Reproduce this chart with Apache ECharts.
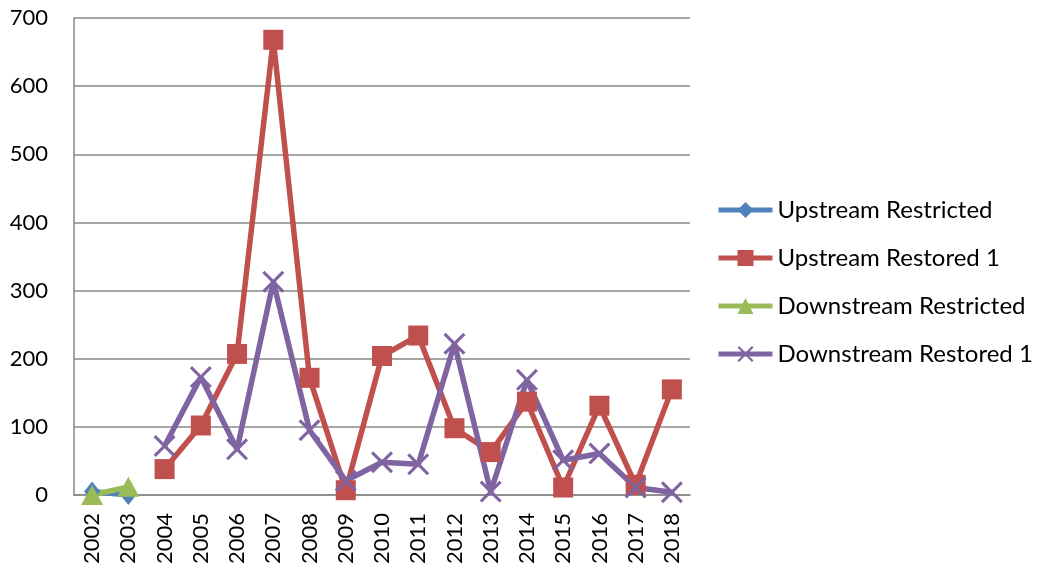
<!DOCTYPE html>
<html>
<head>
<meta charset="utf-8">
<script src="https://cdn.jsdelivr.net/npm/echarts@6/dist/echarts.min.js"></script>
<style>
  html, body { margin: 0; padding: 0; background: #fff; }
  #main { width: 1040px; height: 571px; }
</style>
</head>
<body>
<div id="main"></div>
<script>
const years = ["2002", "2003", "2004", "2005", "2006", "2007", "2008", "2009", "2010",
  "2011", "2012", "2013", "2014", "2015", "2016", "2017", "2018"];
const upstreamRestricted = [5, 0, null, null, null, null, null, null, null, null, null, null, null, null, null, null, null];
const upstreamRestored = [null, null, 38, 102, 207, 668, 172, 7, 204, 234, 98, 63, 137, 11, 131, 15, 155];
const downstreamRestricted = [0, 12, null, null, null, null, null, null, null, null, null, null, null, null, null, null, null];
const downstreamRestored = [null, null, 72, 173, 67, 313, 95, 21, 48, 45, 222, 5, 169, 51, 61, 11, 4];

const font = "Lato, 'Open Sans', sans-serif";
const cross = "path://M0,1L1,0L5,4L9,0L10,1L6,5L10,9L9,10L5,6L1,10L0,9L4,5Z";

function lineSeries(name, data, color, symbol, size) {
  return {
    name: name,
    type: "line",
    data: data,
    symbol: symbol,
    symbolSize: size,
    showAllSymbol: true,
    connectNulls: false,
    lineStyle: { color: color, width: 5.5 },
    itemStyle: { color: color, borderWidth: 0 },
    emphasis: { disabled: true },
  };
}

const chart = echarts.init(document.getElementById("main"));
chart.setOption({
  animation: false,
  textStyle: { fontFamily: font },
  grid: { left: 74, top: 18, right: 350, bottom: 76 },
  xAxis: {
    type: "category",
    data: years,
    boundaryGap: true,
    axisLine: { lineStyle: { color: "#888", width: 1.5 } },
    axisTick: { show: false },
    axisLabel: { rotate: 90, color: "#000", fontSize: 22, fontFamily: font, margin: 18 },
  },
  yAxis: {
    type: "value",
    min: 0,
    max: 700,
    interval: 100,
    axisLine: { show: true, lineStyle: { color: "#888", width: 1.5 } },
    axisTick: { show: false },
    splitLine: { lineStyle: { color: "#888", width: 1.5 } },
    axisLabel: { color: "#000", fontSize: 22, fontFamily: font, margin: 26 },
  },
  legend: {
    orient: "vertical",
    left: 716,
    top: 198,
    padding: 0,
    itemWidth: 54,
    itemHeight: 20,
    itemGap: 24,
    lineStyle: { width: 5 },
    textStyle: { fontSize: 24, color: "#000", fontFamily: font, padding: [0, 0, 0, 0] },
    data: ["Upstream Restricted", "Upstream Restored 1", "Downstream Restricted", "Downstream Restored 1"],
  },
  series: [
    lineSeries("Upstream Restricted", upstreamRestricted, "#4F81BD", "diamond", [16, 20]),
    lineSeries("Upstream Restored 1", upstreamRestored, "#C0504D", "rect", 20),
    lineSeries("Downstream Restricted", downstreamRestricted, "#9BBB59", "triangle", [22, 20]),
    lineSeries("Downstream Restored 1", downstreamRestored, "#8064A2", cross, 22),
  ],
});
</script>
</body>
</html>
